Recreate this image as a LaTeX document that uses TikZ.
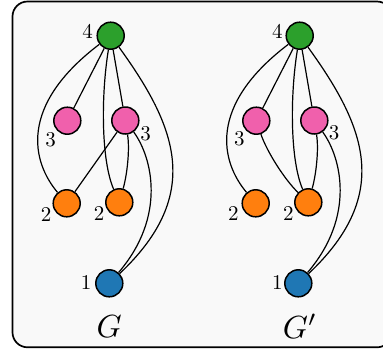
\documentclass[tikz,border=0pt]{standalone}
\definecolor{cgreen}{HTML}{2CA02C}
\definecolor{cpink}{RGB}{240,96,172}
\definecolor{corange}{HTML}{FF7F0E}
\definecolor{cblue}{HTML}{1F77B4}
\definecolor{framebg}{HTML}{F9F9F9}
\begin{document}
\begin{tikzpicture}[x=1pt,y=-1pt,
  vtx/.style={circle, draw=black, line width=1.5pt, minimum size=27pt, inner sep=0pt},
  edge/.style={line width=1.2pt},
  lbl/.style={scale=2.1, inner sep=0pt},
  glbl/.style={scale=3.2, inner sep=0pt},
  frame/.style={draw=black, line width=1.7pt, rounded corners=15pt, fill=framebg}]
\useasboundingbox (0,0) rectangle (383,349);
\clip (0,0) rectangle (383,349);
\draw[frame] (12.5,1.5) rectangle (392,347.3);

% left graph G
\node[vtx,fill=cgreen] (a4) at (110.7,35.7) {};
\node[vtx,fill=cpink] (a3l) at (67.3,120.7) {};
\node[vtx,fill=cpink] (a3r) at (125.3,120.5) {};
\node[vtx,fill=corange] (a2l) at (66.7,203.3) {};
\node[vtx,fill=corange] (a2r) at (119.3,202.3) {};
\node[vtx,fill=cblue] (a1) at (109.3,283.3) {};
\draw[edge] (a4) -- (a3l);
\draw[edge] (a4) -- (a3r);
\draw[edge] (a4) .. controls (18,106) and (32,162) .. (a2l);
\draw[edge] (a4) .. controls (101,95) and (101,160) .. (a2r);
\draw[edge] (a4) .. controls (176,126) and (204,194) .. (a1);
\draw[edge] (a3r) -- (a2l);
\draw[edge] (a3r) .. controls (130,150) and (127,175) .. (a2r);
\draw[edge] (a3r) .. controls (152,157) and (167,216) .. (a1);
\node[lbl] (la4) at (87.7,31) {4};
\node[lbl] (la3l) at (50.7,140) {3};
\node[lbl] (la3r) at (145.7,134) {3};
\node[lbl] (la2l) at (46,214.3) {2};
\node[lbl] (la2r) at (99,214) {2};
\node[lbl] (la1) at (86,282.3) {1};
\node[glbl] (lg) at (109.2,326.7) {$G$};

% right graph G'
\begin{scope}[xshift=189pt]
\node[vtx,fill=cgreen] (b4) at (110.7,35.7) {};
\node[vtx,fill=cpink] (b3l) at (67.3,120.7) {};
\node[vtx,fill=cpink] (b3r) at (125.3,120.5) {};
\node[vtx,fill=corange] (b2l) at (66.7,203.3) {};
\node[vtx,fill=corange] (b2r) at (119.3,202.3) {};
\node[vtx,fill=cblue] (b1) at (109.3,283.3) {};
\draw[edge] (b4) -- (b3l);
\draw[edge] (b4) -- (b3r);
\draw[edge] (b4) .. controls (18,106) and (32,162) .. (b2l);
\draw[edge] (b4) .. controls (101,95) and (101,160) .. (b2r);
\draw[edge] (b4) .. controls (176,126) and (204,194) .. (b1);
\draw[edge] (b3l) .. controls (78,152) and (96,180) .. (b2r);
\draw[edge] (b3r) .. controls (130,150) and (127,175) .. (b2r);
\draw[edge] (b3r) .. controls (152,157) and (167,216) .. (b1);
\node[lbl] (lb4) at (88.3,31) {4};
\node[lbl] (lb3l) at (50.3,139) {3};
\node[lbl] (lb3r) at (145,133) {3};
\node[lbl] (lb2l) at (44.3,214) {2};
\node[lbl] (lb2r) at (99.3,214) {2};
\node[lbl] (lb1) at (88.3,282) {1};
\node[glbl] (lgp) at (111,326.5) {$G'$};
\end{scope}
\end{tikzpicture}
\end{document}
